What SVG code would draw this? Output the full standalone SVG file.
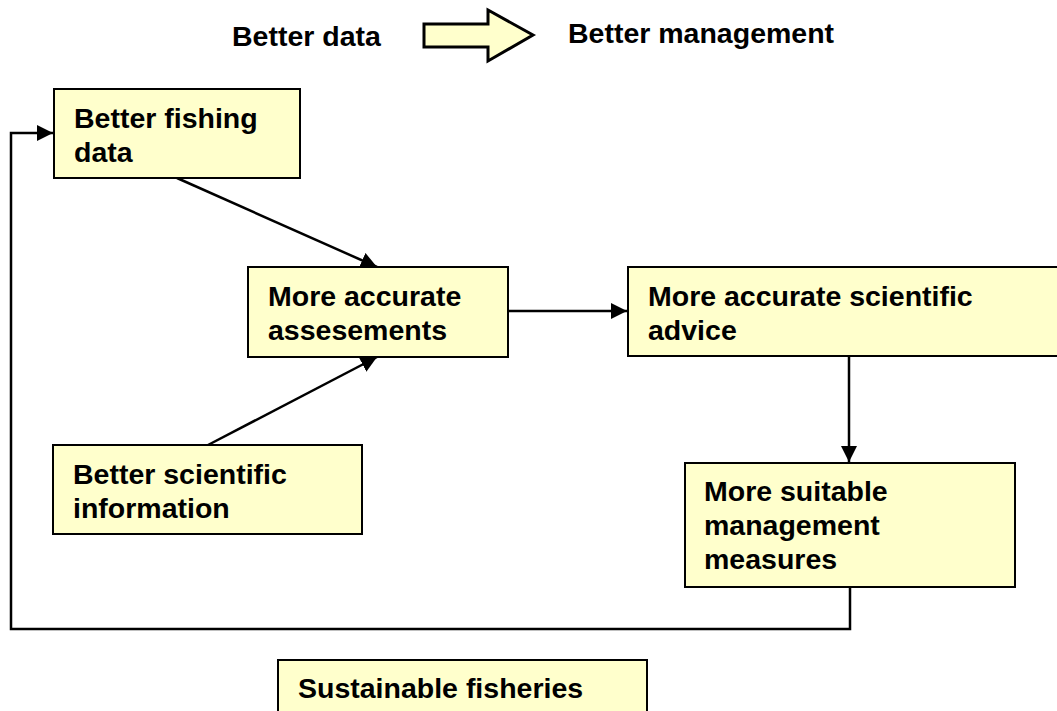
<svg xmlns="http://www.w3.org/2000/svg" width="1057" height="711" viewBox="0 0 1057 711">
<style>
.box{fill:#FFFFCC;stroke:#000;stroke-width:2}
.t{font-family:"Liberation Sans",Arial,sans-serif;font-weight:bold;font-size:28.5px;fill:#000}
.h{font-family:"Liberation Sans",Arial,sans-serif;font-weight:bold;font-size:28.5px;fill:#000}
.c{fill:none;stroke:#000;stroke-width:2.5}
</style>
<defs>
<marker id="ah" viewBox="0 0 10 10" refX="10" refY="5" markerWidth="6.5" markerHeight="6.5" markerUnits="strokeWidth" orient="auto">
<path d="M0,0 L10,5 L0,10 Z" fill="#000"/>
</marker>
</defs>
<rect width="1057" height="711" fill="#fff"/>
<g id="header">
<text class="h" x="232" y="46">Better data</text>
<path d="M424,24 H488 V10 L533,35 L488,61 V47 H424 Z" fill="#FFFFCC" stroke="#000" stroke-width="3" stroke-linejoin="miter"/>
<text class="h" x="568" y="43">Better management</text>
</g>
<g id="connectors">
<line class="c" x1="177" y1="178" x2="377" y2="267" marker-end="url(#ah)"/>
<line class="c" x1="208" y1="445" x2="377" y2="357" marker-end="url(#ah)"/>
<line class="c" x1="508" y1="311" x2="627" y2="311" marker-end="url(#ah)"/>
<line class="c" x1="849" y1="356" x2="849" y2="462" marker-end="url(#ah)"/>
<polyline class="c" points="850,587 850,629 11,629 11,133 53,133" marker-end="url(#ah)"/>
</g>
<g id="n1">
<rect class="box" x="54" y="89" width="246" height="89"/>
<text class="t" x="74" y="128">Better fishing</text>
<text class="t" x="74" y="162">data</text>
</g>
<g id="n2">
<rect class="box" x="248" y="267" width="260" height="90"/>
<text class="t" x="268" y="306">More accurate</text>
<text class="t" x="268" y="340">assesements</text>
</g>
<g id="n3">
<rect class="box" x="628" y="267" width="432" height="89"/>
<text class="t" x="648" y="306">More accurate scientific</text>
<text class="t" x="648" y="340">advice</text>
</g>
<g id="n4">
<rect class="box" x="685" y="463" width="330" height="124"/>
<text class="t" x="704" y="501">More suitable</text>
<text class="t" x="704" y="535">management</text>
<text class="t" x="704" y="569">measures</text>
</g>
<g id="n5">
<rect class="box" x="53" y="445" width="309" height="89"/>
<text class="t" x="73" y="484">Better scientific</text>
<text class="t" x="73" y="518">information</text>
</g>
<g id="n6">
<rect class="box" x="278" y="660" width="369" height="60"/>
<text class="t" x="298" y="698">Sustainable fisheries</text>
</g>
</svg>
